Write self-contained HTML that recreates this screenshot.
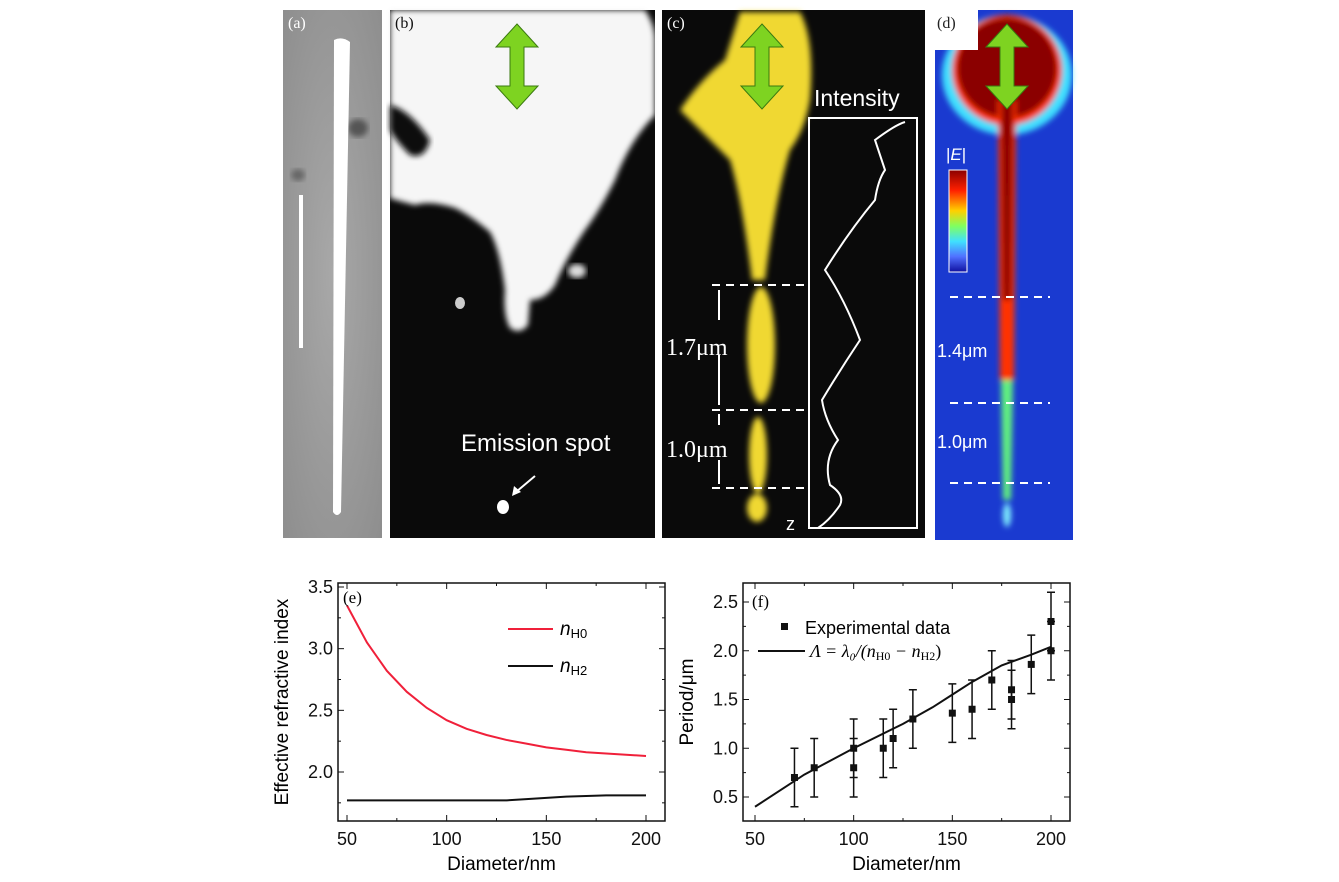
<!DOCTYPE html>
<html><head><meta charset="utf-8"><style>
html,body{margin:0;padding:0;background:#fff;}
svg{display:block;font-family:"Liberation Sans",sans-serif;}
.tk{font-size:18px;fill:#111;}
.ser{font-family:"Liberation Serif",serif;}
</style></head><body>
<svg id="fig" width="1339" height="882" viewBox="0 0 1339 882">
<defs>
<radialGradient id="ga" cx="50%" cy="50%" r="70%"><stop offset="0" stop-color="#a8a8a8"/><stop offset="1" stop-color="#8e8e8e"/></radialGradient>
<linearGradient id="cb" x1="0" y1="0" x2="0" y2="1"><stop offset="0" stop-color="#8b0000"/><stop offset=".2" stop-color="#ff2000"/><stop offset=".4" stop-color="#ffd000"/><stop offset=".55" stop-color="#80ff60"/><stop offset=".7" stop-color="#40e0ff"/><stop offset=".85" stop-color="#5070ff"/><stop offset="1" stop-color="#1010a0"/></linearGradient>
<filter id="bl"><feGaussianBlur stdDeviation="3"/></filter>
</defs>
<!-- (a) -->
<g>
<rect x="283" y="10" width="99" height="528" fill="url(#ga)"/>
<ellipse cx="358" cy="128" rx="10" ry="9" fill="#555" filter="url(#bl)"/>
<ellipse cx="298" cy="175" rx="7" ry="6" fill="#666" filter="url(#bl)"/>
<path d="M334 40 Q342 36 350 42 L341 512 Q337 518 333 512 Z" fill="#fff"/>
<rect x="299" y="195" width="4" height="153" fill="#fff"/>
<text x="288" y="28" class="ser" font-size="16" fill="#fff">(a)</text>
</g>
<!-- (b) -->
<g>
<rect x="390" y="10" width="265" height="528" fill="#0a0a0a"/>
<path d="M390 10 L645 10 Q655 25 655 40 L655 115 Q630 140 615 180 Q600 210 585 230 Q565 260 555 285 Q545 300 530 300 L528 325 Q520 335 510 328 Q503 315 505 290 Q500 250 490 232 Q470 215 455 208 Q430 200 415 205 Q395 200 390 198 Z" fill="#f6f6f6" filter="url(#bl)"/>
<path d="M390 105 Q410 110 430 140 Q425 160 410 155 Q395 140 390 130 Z" fill="#0a0a0a" filter="url(#bl)"/>
<ellipse cx="577" cy="271" rx="9" ry="7" fill="#ddd" filter="url(#bl)"/>
<ellipse cx="503" cy="507" rx="6" ry="7" fill="#fff"/>
<ellipse cx="460" cy="303" rx="5" ry="6" fill="#ccc"/>
<text x="395" y="28" class="ser" font-size="16" fill="#111">(b)</text>
<text x="461" y="451" font-size="24" fill="#fff">Emission spot</text>
<line x1="535" y1="476" x2="516" y2="492" stroke="#fff" stroke-width="2"/>
<path d="M512 496 L514 486 L521 492 Z" fill="#fff"/>
</g>
<!-- (c) -->
<g>
<rect x="662" y="10" width="263" height="528" fill="#0a0a0a"/>
<g fill="#f0d830" filter="url(#bl)">
<path d="M740 12 L800 12 Q815 40 810 100 Q805 130 790 150 Q775 200 765 280 L752 280 Q742 200 730 160 Q700 130 680 110 Q700 80 725 60 Z"/>
<ellipse cx="761" cy="345" rx="14" ry="58"/>
<ellipse cx="758" cy="455" rx="9" ry="38"/>
<ellipse cx="757" cy="508" rx="10" ry="14"/>
</g>
<text x="667" y="28" class="ser" font-size="16" fill="#fff">(c)</text>
<text x="814" y="106" font-size="23" fill="#fff">Intensity</text>
<rect x="809" y="118" width="108" height="410" fill="none" stroke="#fff" stroke-width="2"/>
<path d="M818 528 Q830 520 840 505 Q845 495 830 485 Q823 460 838 440 Q825 420 822 400 Q840 370 860 340 Q845 300 825 270 Q850 230 875 200 Q878 180 885 170 Q880 155 875 140 Q895 125 905 122" fill="none" stroke="#fff" stroke-width="2"/>
<text x="786" y="530" font-size="18" fill="#fff">z</text>
<g stroke="#fff" stroke-width="2" stroke-dasharray="8 6">
<line x1="712" y1="285" x2="810" y2="285"/><line x1="712" y1="410" x2="810" y2="410"/><line x1="712" y1="488" x2="810" y2="488"/>
</g>
<g stroke="#fff" stroke-width="2"><line x1="719" y1="290" x2="719" y2="320"/><line x1="719" y1="355" x2="719" y2="405"/><line x1="719" y1="414" x2="719" y2="425"/><line x1="719" y1="460" x2="719" y2="484"/></g>
<text x="666" y="355" class="ser" font-size="24" fill="#fff">1.7μm</text>
<text x="666" y="457" class="ser" font-size="24" fill="#fff">1.0μm</text>
</g>
<!-- (d) -->
<g>
<rect x="935" y="10" width="138" height="530" fill="#1a3ad0"/>
<g filter="url(#bl)">
<ellipse cx="1007" cy="75" rx="65" ry="60" fill="#40e0ff"/>
<ellipse cx="1007" cy="70" rx="55" ry="55" fill="#ff3000"/>
<ellipse cx="1007" cy="68" rx="50" ry="50" fill="#8b0000"/>
<path d="M998 100 L1016 100 L1014 380 L1000 380 Z" fill="#ff3000"/>
<path d="M1001 100 L1013 100 L1011 300 L1003 300 Z" fill="#8b0000"/>
<path d="M1001 380 L1013 380 L1011 500 L1003 500 Z" fill="#60f080"/>
<ellipse cx="1007" cy="515" rx="4" ry="12" fill="#80f0ff"/>
</g>
<rect x="933" y="10" width="45" height="40" fill="#fff"/>
<text x="937" y="28" class="ser" font-size="16" fill="#222">(d)</text>
<text x="946" y="160" font-size="17" fill="#fff">|<tspan font-style="italic">E</tspan>|</text>
<rect x="949" y="170" width="18" height="102" fill="url(#cb)" stroke="#fff"/>
<g stroke="#fff" stroke-width="2" stroke-dasharray="8 6">
<line x1="950" y1="297" x2="1050" y2="297"/><line x1="950" y1="403" x2="1050" y2="403"/><line x1="950" y1="483" x2="1050" y2="483"/>
</g>
<text x="937" y="357" font-size="18" fill="#fff">1.4μm</text>
<text x="937" y="448" font-size="18" fill="#fff">1.0μm</text>
</g>
<!-- green arrows -->
<g fill="#7ed321" stroke="#3a7a10" stroke-width="1">
<path d="M517 24 L538 47 L524 47 L524 86 L538 86 L517 109 L496 86 L510 86 L510 47 L496 47 Z"/>
<path d="M762 24 L783 47 L769 47 L769 86 L783 86 L762 109 L741 86 L755 86 L755 47 L741 47 Z"/>
<path d="M1007 24 L1028 47 L1014 47 L1014 86 L1028 86 L1007 109 L986 86 L1000 86 L1000 47 L986 47 Z"/>
</g>
<g id="chartE"></g>
<g id="chartF"></g>
</svg>
<script>
const eX = [50,60,70,80,90,100,110,120,130,140,150,160,170,180,190,200];
const eH0 = [3.35,3.05,2.82,2.65,2.52,2.42,2.35,2.30,2.26,2.23,2.20,2.18,2.16,2.15,2.14,2.13];
const eH2 = [1.77,1.77,1.77,1.77,1.77,1.77,1.77,1.77,1.77,1.78,1.79,1.80,1.805,1.81,1.81,1.81];
const eYTicks = [2.0,2.5,3.0,3.5];
const xTicks = [50,100,150,200];
const fX = [70,80,100,100,115,120,130,150,160,170,180,180,190,200,200];
const fY = [0.7,0.8,1.0,0.8,1.0,1.1,1.3,1.36,1.4,1.7,1.6,1.5,1.86,2.3,2.0];
const fErr = [0.3,0.3,0.3,0.3,0.3,0.3,0.3,0.3,0.3,0.3,0.3,0.3,0.3,0.3,0.3];
const fLX = [50,75,100,125,140,150,160,175,190,200];
const fLY = [0.4,0.73,1.0,1.25,1.42,1.55,1.68,1.85,1.96,2.04];
const fYTicks = [0.5,1.0,1.5,2.0,2.5];
const NS='http://www.w3.org/2000/svg';
function mk(p,t,a,txt){const e=document.createElementNS(NS,t);for(const k in a)e.setAttribute(k,a[k]);if(txt!==undefined)e.textContent=txt;p.appendChild(e);return e;}
function axes(g,box,sx,sy,yt,ytitle){
  const f=mk(g,'rect',{x:box[0],y:box[1],width:box[2]-box[0],height:box[3]-box[1],fill:'none',stroke:'#111','stroke-width':1.5});
  
  
  for(let v=50;v<=200;v+=25){const x=sx(v);mk(g,'line',{x1:x,y1:box[3],x2:x,y2:box[3]-(v%50?3:6),stroke:'#111'});mk(g,'line',{x1:x,y1:box[1],x2:x,y2:box[1]+(v%50?3:6),stroke:'#111'});}
  xTicks.forEach(v=>{const t=mk(g,'text',{x:sx(v),y:box[3]+24,'text-anchor':'middle',class:'tk'},v);
    
    });
  yt.forEach(v=>{const y=sy(v);mk(g,'line',{x1:box[0],y1:y,x2:box[0]+6,y2:y,stroke:'#111'});mk(g,'line',{x1:box[2],y1:y,x2:box[2]-6,y2:y,stroke:'#111'});
    const h=sy(v-0.25);if(h<box[3]){mk(g,'line',{x1:box[0],y1:h,x2:box[0]+3,y2:h,stroke:'#111'});mk(g,'line',{x1:box[2],y1:h,x2:box[2]-3,y2:h,stroke:'#111'});}
    const t=mk(g,'text',{x:box[0]-5,y:y+6,'text-anchor':'end',class:'tk'},v.toFixed(1));
    
    });
  const xt=mk(g,'text',{x:(box[0]+box[2])/2,y:box[3]+49,'text-anchor':'middle','font-size':19},'Diameter/nm');
  
  
  const yx=box[0]-50,yy=(box[1]+box[3])/2;
  const ytl=mk(g,'text',{x:yx,y:yy,'text-anchor':'middle','font-size':19,transform:`rotate(-90 ${yx} ${yy})`},ytitle);
  
  
}
// chart e
(function(){
  const g=document.getElementById('chartE');
  const sx=v=>347+(v-50)*(646-347)/150, sy=v=>772-(v-2.0)*(772-587)/1.5;
  axes(g,[338,583,665,821],sx,sy,eYTicks,'Effective refractive index');
  const l1=mk(g,'path',{d:'M'+eX.map((x,i)=>sx(x)+' '+sy(eH0[i])).join(' L'),fill:'none',stroke:'#f0203a','stroke-width':2});
  
  
  const l2=mk(g,'path',{d:'M'+eX.map((x,i)=>sx(x)+' '+sy(eH2[i])).join(' L'),fill:'none',stroke:'#111','stroke-width':2});
  
  
  mk(g,'text',{x:343,y:603,class:'ser','font-size':17},'(e)');
  mk(g,'line',{x1:508,y1:629,x2:553,y2:629,stroke:'#f0203a','stroke-width':2});
  mk(g,'line',{x1:508,y1:666,x2:553,y2:666,stroke:'#111','stroke-width':2});
  const a=mk(g,'text',{x:560,y:635,'font-size':19,'font-style':'italic'},'n');mk(a,'tspan',{'font-style':'normal','font-size':13,dy:3},'H0');
  
  
  const b=mk(g,'text',{x:560,y:672,'font-size':19,'font-style':'italic'},'n');mk(b,'tspan',{'font-style':'normal','font-size':13,dy:3},'H2');
  
  
})();
// chart f
(function(){
  const g=document.getElementById('chartF');
  const sx=v=>755+(v-50)*(1051-755)/150, sy=v=>797-(v-0.5)*(797-602)/2.0;
  axes(g,[743,583,1070,821],sx,sy,fYTicks,'Period/μm');
  const l=mk(g,'path',{d:'M'+fLX.map((x,i)=>sx(x)+' '+sy(fLY[i])).join(' L'),fill:'none',stroke:'#111','stroke-width':2});
  
  
  fX.forEach((x,i)=>{
    const px=sx(x),y1=sy(fY[i]-fErr[i]),y2=sy(fY[i]+fErr[i]);
    const eb=mk(g,'path',{d:`M${px} ${y1} L${px} ${y2} M${px-4} ${y1} L${px+4} ${y1} M${px-4} ${y2} L${px+4} ${y2}`,stroke:'#111','stroke-width':1.5,fill:'none'});
    
    
    const p=mk(g,'rect',{x:px-3.5,y:sy(fY[i])-3.5,width:7,height:7,fill:'#111'});
    
    
  });
  mk(g,'text',{x:752,y:607,class:'ser','font-size':17},'(f)');
  mk(g,'rect',{x:781,y:623,width:7,height:7,fill:'#111'});
  const t1=mk(g,'text',{x:805,y:634,'font-size':18},'Experimental data');
  
  
  mk(g,'line',{x1:758,y1:651,x2:805,y2:651,stroke:'#111','stroke-width':2});
  const t2=mk(g,'text',{x:810,y:657,class:'ser','font-size':18,'font-style':'italic'},'Λ = λ₀/(n');
  mk(t2,'tspan',{'font-style':'normal','font-size':12,dy:3},'H0');
  mk(t2,'tspan',{dy:-3},' − n');
  mk(t2,'tspan',{'font-style':'normal','font-size':12,dy:3},'H2');
  mk(t2,'tspan',{dy:-3,'font-style':'normal'},')');
  
  
})();
</script>
</body></html>
